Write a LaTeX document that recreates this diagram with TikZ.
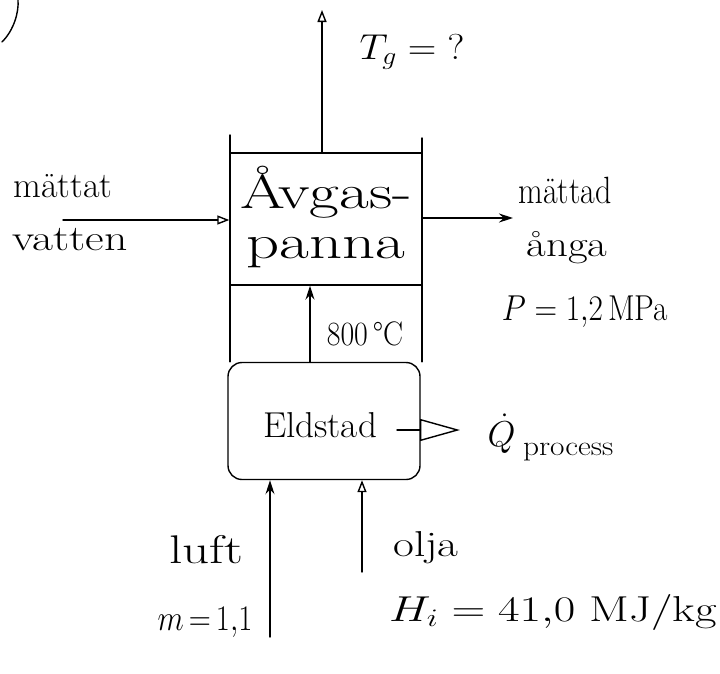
\RequirePackage{fix-cm}
\documentclass[tikz,border=0pt]{standalone}
\usetikzlibrary{arrows.meta}
\newcommand\myfs[1]{\fontsize{#1}{#1}\selectfont}
\newcommand\wide[2]{\scalebox{#1}[1]{#2}}
\begin{document}
\begin{tikzpicture}[x=1pt,y=-1pt, line width=1.4pt, line cap=round,
  lbl/.style={inner sep=0pt, font=\myfs{36}},
  flow/.style={-{Stealth[length=14pt,width=9pt]}},
  oflow/.style={-{Triangle[open,length=12pt,width=9pt]}},
  hflow/.style={-{Triangle[open,length=40pt,width=22pt]}},
  unit/.style={draw, inner sep=0pt, line width=1.4pt}]
\useasboundingbox (0,0) rectangle (720,673);
% corner bracket
\draw (2,42) .. controls (14,30) and (19,12) .. (18,0);
% units
\node[unit, minimum width=192pt, minimum height=132pt] (avgas) at (326,219) {};
\node[lbl, align=center, font=\myfs{48}] (avgastxt) at (326,217)
  {\wide{1.35}{Åvgas-}\\[2pt]\wide{1.35}{panna}};
\node[unit, rounded corners=14pt, minimum width=192pt, minimum height=117pt] (eld) at (324,421) {};
\node[lbl] (eldtxt) at (320,425) {\wide{1.03}{Eldstad}};
% frame side lines
\coordinate (lt) at (230,135);
\coordinate (rt) at (422,138);
\draw (lt) -- (lt |- eld.north);
\draw (rt) -- (rt |- eld.north);
% exhaust
\coordinate (tgend) at (322,10);
\draw[oflow] (avgas.north -| tgend) -- (tgend);
\node[lbl] (tg) at (412,52) {\wide{1.1}{$T_g = {?}$}};
% water in
\coordinate (win) at (63,220);
\draw[oflow] (win) -- (win -| avgas.west);
\node[lbl] (w1) at (63,186) {mättat};
\node[lbl] (w2) at (70,240) {\wide{1.27}{vatten}};
% steam out
\coordinate (wout) at (513,218);
\draw[flow] (avgas.east |- wout) -- (wout);
\node[lbl, font=\myfs{38}] (s1) at (565,190) {\wide{0.84}{mättad}};
\node[lbl] (s2) at (567,248) {\wide{1.19}{ånga}};
\node[lbl] (s3) at (585,312) {\wide{0.87}{$P = 1{,}2$\,MPa}};
% hot gas
\coordinate (a8) at (310,0);
\draw[flow] (a8 |- eld.north) -- (a8 |- avgas.south);
\node[lbl, font=\myfs{34}] (t8) at (365,334) {\wide{0.88}{800\,\textdegree C}};
% heat out
\coordinate (qstart) at (397,430);
\coordinate (qend) at (460,430);
\draw[hflow] (qstart) -- (qend);
\node[lbl, anchor=west] (q) at (487,434) {$\dot{Q}$};
\node[lbl, anchor=base west, font=\myfs{28}] (qsub) at ([xshift=6pt,yshift=-9pt]q.base east) {\wide{1.12}{process}};
% air and oil
\coordinate (luft0) at (270,637);
\draw[flow] (luft0) -- (luft0 |- eld.south);
\coordinate (olja0) at (362,572);
\draw[oflow] (olja0) -- (olja0 |- eld.south);
\node[lbl, font=\myfs{40}] (l1) at (206,550) {\wide{1.33}{luft}};
\node[lbl] (l2) at (205,622) {\wide{0.85}{$m\,{=}\,1{,}1$}};
\node[lbl] (o1) at (426,548) {\wide{1.26}{olja}};
\node[lbl] (o2) at (553,612) {\wide{1.3}{$H_i = 41{,}0$ MJ/kg}};
\end{tikzpicture}
\end{document}
